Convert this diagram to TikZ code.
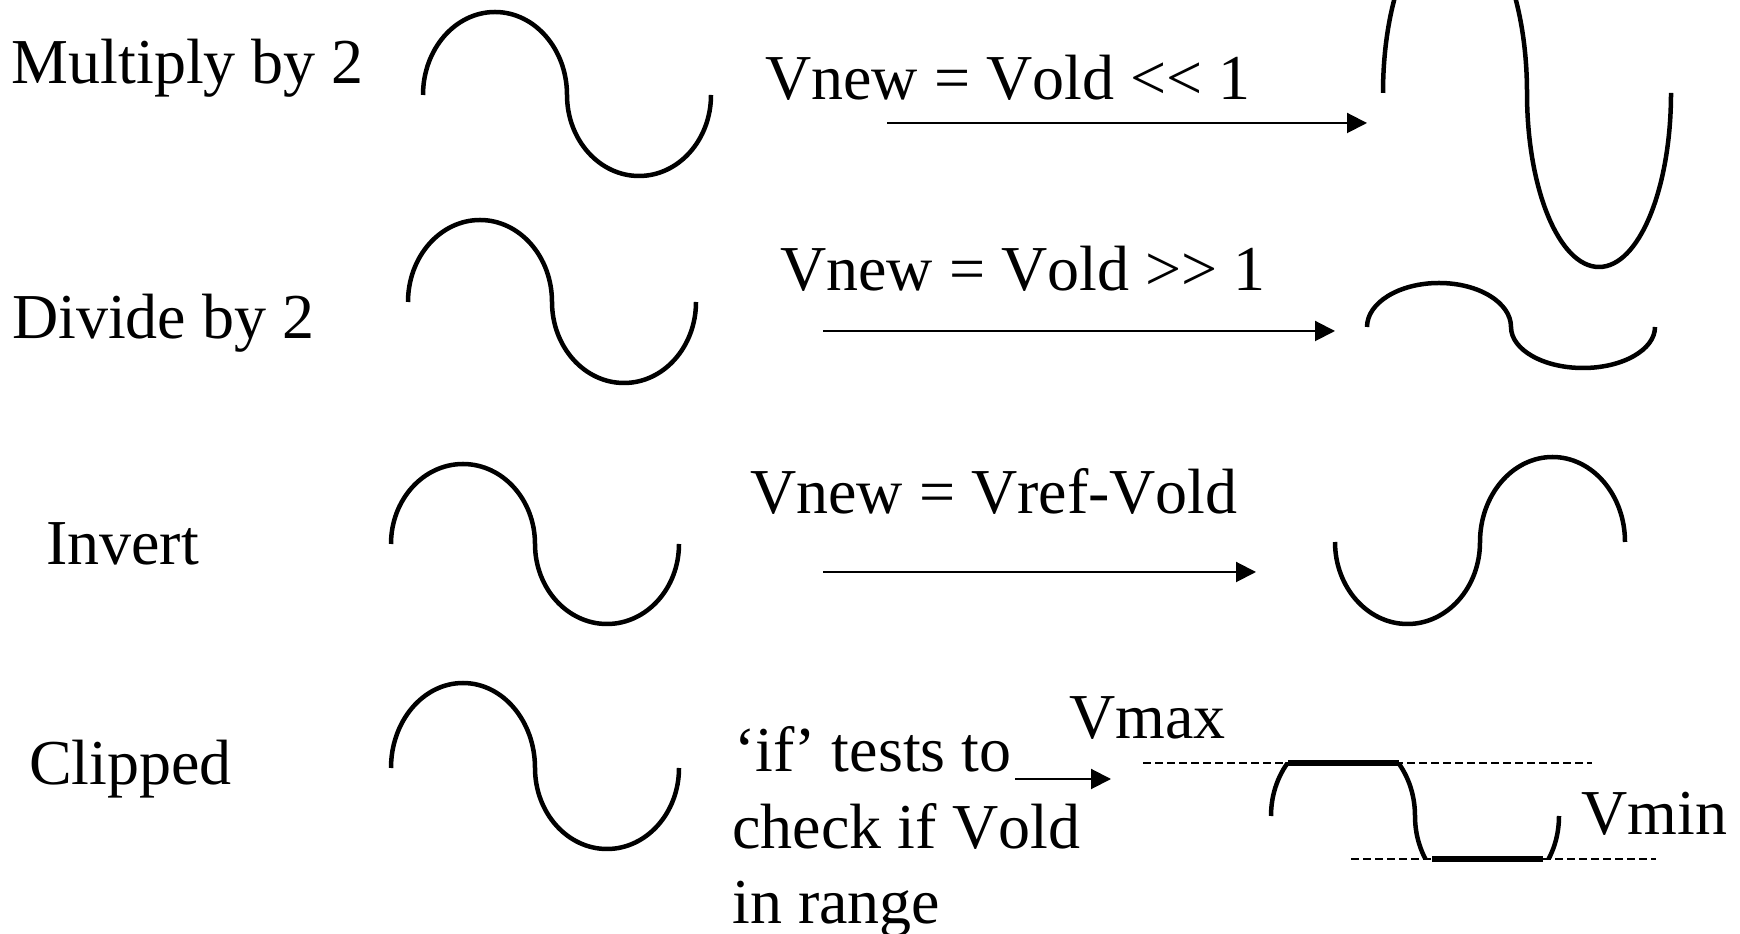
\documentclass[tikz,border=0pt]{standalone}
\usepackage{fontspec}
\setmainfont{Liberation Serif}[Kerning=Off]
\usetikzlibrary{arrows.meta}
\begin{document}
\begin{tikzpicture}[x=1pt,y=1pt,
  wave/.style={line width=4.5pt},
  flatseg/.style={line width=6pt},
  guide/.style={line width=1.5pt, dash pattern=on 8pt off 4pt},
  conn/.style={line width=2pt, -{Triangle[length=20pt,width=20pt]}},
  lbl/.style={anchor=base west, inner sep=0pt, font=\fontsize{64pt}{76pt}\selectfont}]
\useasboundingbox (0,0) rectangle (1740,934);
\begin{scope}
\clip (0,0) rectangle (1740,934);

% row labels
\node[lbl] (lmul) at (11.7,850.7) {Multiply by 2};
\node[lbl] (ldiv) at (12,595.5) {Divide by 2};
\node[lbl] (linv) at (46,369.5) {Invert};
\node[lbl] (lclip) at (29,149) {Clipped};

% operation labels
\node[lbl] (tmul) at (765,834) {Vnew = Vold {<}{<} 1};
\node[lbl] (tdiv) at (780,643.3) {Vnew = Vold {>}{>} 1};
\node[lbl] (tinv) at (750,420) {Vnew = Vref-Vold};
\node[lbl] (tif1) at (734,162) {‘if’ tests to};
\node[lbl] (tif2) at (732,85.3) {check if Vold};
\node[lbl] (tif3) at (732,10.3) {in range};
\node[lbl] (tmax) at (1069,195) {Vmax};
\node[lbl] (tmin) at (1581,99) {Vmin};

% input waves
\draw[wave] (423,839) arc[start angle=180,end angle=0,x radius=72,y radius=83]
  arc[start angle=180,end angle=360,x radius=72,y radius=81];
\draw[wave] (408,632) arc[start angle=180,end angle=0,x radius=72,y radius=82]
  arc[start angle=180,end angle=360,x radius=72,y radius=81];
\draw[wave] (391,390) arc[start angle=180,end angle=0,x radius=72,y radius=80]
  arc[start angle=180,end angle=360,x radius=72,y radius=80];
\draw[wave] (391,166) arc[start angle=180,end angle=0,x radius=72,y radius=85]
  arc[start angle=180,end angle=360,x radius=72,y radius=81];

% output waves
\draw[wave] (1383,841) arc[start angle=180,end angle=0,x radius=72,y radius=174]
  arc[start angle=180,end angle=360,x radius=72,y radius=174];
\draw[wave] (1367,607) arc[start angle=180,end angle=0,x radius=72,y radius=44]
  arc[start angle=180,end angle=360,x radius=72,y radius=41];
\draw[wave] (1335,392) arc[start angle=180,end angle=360,x radius=72.5,y radius=82]
  arc[start angle=180,end angle=0,x radius=72.5,y radius=85];

% clipped output
\draw[guide] (1143,171) -- (1592,171);
\draw[guide] (1351,75) -- (1656,75);
\begin{scope}
  \clip (1200,75) rectangle (1620,171);
  \draw[wave] (1271,118) arc[start angle=180,end angle=0,x radius=72,y radius=83]
    arc[start angle=180,end angle=360,x radius=72,y radius=83];
\end{scope}
\draw[flatseg] (1288,171) -- (1399,171);
\draw[flatseg] (1432,75) -- (1543,75);

% arrows
\coordinate (ma) at (887,811);  \coordinate (mb) at (1367,811);
\coordinate (da) at (823,603);  \coordinate (db) at (1335,603);
\coordinate (ia) at (823,362);  \coordinate (ib) at (1256,362);
\coordinate (ca) at (1015,155); \coordinate (cb) at (1111,155);
\draw[conn] (ma) -- (mb);
\draw[conn] (da) -- (db);
\draw[conn] (ia) -- (ib);
\draw[conn] (ca) -- (cb);
\end{scope}
\end{tikzpicture}
\end{document}
